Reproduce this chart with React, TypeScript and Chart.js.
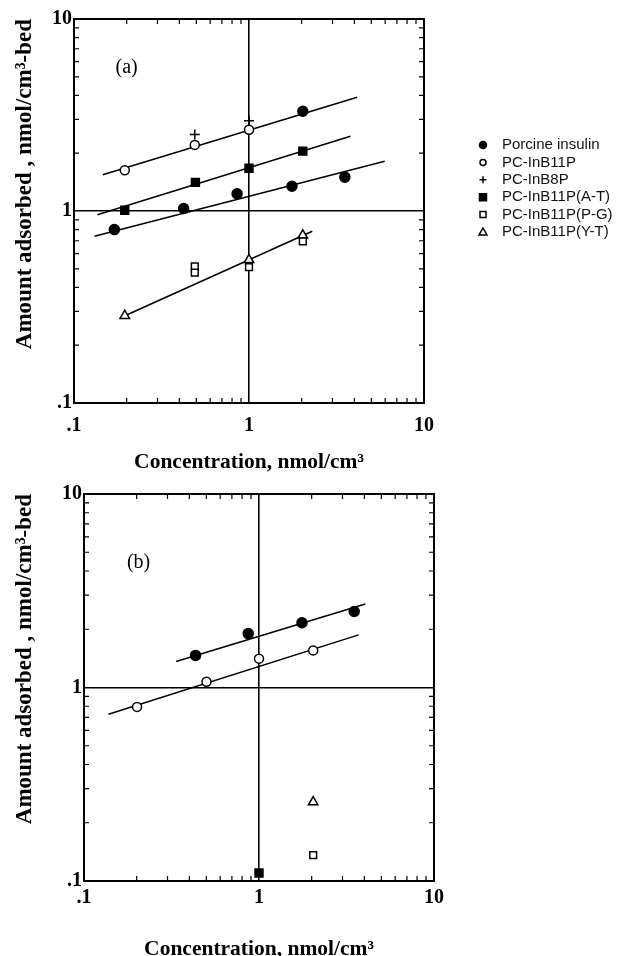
import React, { useEffect, useRef } from 'react';
import { Chart, registerables } from 'chart.js';

Chart.register(...registerables);

// ---------- labels ----------
const SERIES_LABELS = [
  'Porcine insulin',
  'PC-InB11P',
  'PC-InB8P',
  'PC-InB11P(A-T)',
  'PC-InB11P(P-G)',
  'PC-InB11P(Y-T)',
];
const X_TITLE = 'Concentration, nmol/cm³';
const Y_TITLE = 'Amount adsorbed , nmol/cm³-bed';
const TICK_VALUES = [0.1, 1, 10];
const TICK_LABELS = ['.1', '1', '10'];
const MINOR_TICKS = [0.2, 0.3, 0.4, 0.5, 0.6, 0.7, 0.8, 0.9, 2, 3, 4, 5, 6, 7, 8, 9];

// ---------- panel (a) data ----------
const A_PORCINE_X = [0.17, 0.423, 0.855, 1.76, 3.53, 2.03];
const A_PORCINE_Y = [0.8, 1.03, 1.23, 1.345, 1.5, 3.31];
const A_B11P_X = [0.195, 0.49, 1.0];
const A_B11P_Y = [1.63, 2.21, 2.65];
const A_B8P_X = [0.49, 1.0];
const A_B8P_Y = [2.5, 2.95];
const A_AT_X = [0.195, 0.494, 1.0, 2.03];
const A_AT_Y = [1.01, 1.41, 1.67, 2.05];
const A_PG_X = [0.49, 0.49, 1.0, 2.03];
const A_PG_Y = [0.515, 0.478, 0.51, 0.695];
const A_YT_X = [0.195, 1.0, 2.03];
const A_YT_Y = [0.285, 0.557, 0.747];
// fitted lines (a)
const A_FIT1_X = [0.146, 4.15];
const A_FIT1_Y = [1.545, 3.91];
const A_FIT2_X = [0.136, 3.8];
const A_FIT2_Y = [0.957, 2.45];
const A_FIT3_X = [0.131, 5.96];
const A_FIT3_Y = [0.738, 1.815];
const A_FIT4_X = [0.183, 2.3];
const A_FIT4_Y = [0.277, 0.784];
const A_PANEL_LABEL = '(a)';
const A_PANEL_LABEL_X = 0.2;
const A_PANEL_LABEL_Y = 5.6;

// ---------- panel (b) data ----------
const B_PORCINE_X = [0.434, 0.868, 1.76, 3.5];
const B_PORCINE_Y = [1.465, 1.9, 2.16, 2.47];
const B_B11P_X = [0.201, 0.501, 1.0, 2.04];
const B_B11P_Y = [0.794, 1.07, 1.41, 1.555];
const B_AT_X = [1.0];
const B_AT_Y = [0.11];
const B_PG_X = [2.04];
const B_PG_Y = [0.136];
const B_YT_X = [2.04];
const B_YT_Y = [0.256];
const B_FIT1_X = [0.336, 4.05];
const B_FIT1_Y = [1.364, 2.7];
const B_FIT2_X = [0.138, 3.71];
const B_FIT2_Y = [0.727, 1.87];
const B_PANEL_LABEL = '(b)';
const B_PANEL_LABEL_X = 0.205;
const B_PANEL_LABEL_Y = 4.4;

// ---------- styles ----------
const SERIF = '"Liberation Serif", "Times New Roman", serif';
const SANS = '"Liberation Sans", Arial, sans-serif';

const SERIES_STYLES = [
  { pointStyle: 'circle', radius: 5, fill: '#000', legendR: 3.5 },
  { pointStyle: 'circle', radius: 4.5, fill: '#fff', legendR: 3 },
  { pointStyle: 'cross', radius: 5, fill: '#000', legendR: 3.5 },
  { pointStyle: 'rect', radius: 5.6, fill: '#000', legendR: 3.5 },
  { pointStyle: 'rect', radius: 4.8, fill: '#fff', legendR: 3 },
  { pointStyle: 'triangle', radius: 5.5, fill: '#fff', legendR: 4 },
];

function pts(xs: number[], ys: number[]) {
  return xs.map((x, i) => ({ x, y: ys[i] }));
}

function pointDataset(idx: number, xs: number[], ys: number[]) {
  const s = SERIES_STYLES[idx];
  return {
    label: SERIES_LABELS[idx],
    data: pts(xs, ys),
    showLine: false,
    pointStyle: s.pointStyle,
    pointRadius: s.radius,
    pointHoverRadius: s.radius,
    backgroundColor: s.fill,
    borderColor: '#000',
    borderWidth: 1.5,
  };
}

function lineDataset(xs: number[], ys: number[]) {
  return {
    label: 'fit',
    data: pts(xs, ys),
    showLine: true,
    pointRadius: 0,
    pointHoverRadius: 0,
    borderColor: '#000',
    backgroundColor: '#000',
    borderWidth: 1.5,
    fill: false,
    tension: 0,
  };
}

function tickLabel(v: number) {
  for (let i = 0; i < TICK_VALUES.length; i++) {
    if (Math.abs(v - TICK_VALUES[i]) < TICK_VALUES[i] * 1e-6) return TICK_LABELS[i];
  }
  return '';
}

function makeScales(yWidth: number, xHeight: number, xTickPad: number, xTitlePad: number) {
  const tickFont = { family: SERIF, size: 20, weight: 'bold' as const };
  const gridColor = (c: any) =>
    c.tick && Math.abs(c.tick.value - 1) < 1e-9 ? '#000' : 'rgba(0,0,0,0)';
  return {
    x: {
      type: 'logarithmic' as const,
      min: 0.1,
      max: 10,
      border: { display: false },
      grid: { color: gridColor, lineWidth: 1.6, drawTicks: false },
      ticks: {
        autoSkip: false,
        maxRotation: 0,
        color: '#000',
        font: tickFont,
        padding: xTickPad,
        callback: (v: any) => tickLabel(Number(v)),
      },
      title: {
        display: true,
        text: X_TITLE,
        color: '#000',
        font: { family: SERIF, size: 21.5, weight: 'bold' as const },
        padding: { top: 0, bottom: xTitlePad },
      },
      afterFit: (s: any) => {
        s.height = xHeight;
      },
    },
    y: {
      type: 'logarithmic' as const,
      min: 0.1,
      max: 10,
      border: { display: false },
      grid: { color: gridColor, lineWidth: 1.6, drawTicks: false },
      ticks: {
        autoSkip: false,
        color: '#000',
        font: tickFont,
        padding: 2,
        callback: (v: any) => tickLabel(Number(v)),
      },
      title: {
        display: true,
        text: Y_TITLE,
        align: 'end' as const,
        color: '#000',
        font: { family: SERIF, size: 23, weight: 'bold' as const },
        padding: { top: 11, bottom: 0 },
      },
      afterFit: (s: any) => {
        s.width = yWidth;
      },
    },
  };
}

// frame + inward minor ticks
const framePlugin = {
  id: 'frame',
  beforeDatasetsDraw(chart: any) {
    const { ctx, chartArea: a, scales } = chart;
    ctx.save();
    ctx.strokeStyle = '#000';
    ctx.lineWidth = 1.2;
    ctx.beginPath();
    MINOR_TICKS.forEach((v) => {
      const px = scales.x.getPixelForValue(v);
      ctx.moveTo(px, a.bottom);
      ctx.lineTo(px, a.bottom - 5);
      ctx.moveTo(px, a.top);
      ctx.lineTo(px, a.top + 5);
      const py = scales.y.getPixelForValue(v);
      ctx.moveTo(a.left, py);
      ctx.lineTo(a.left + 5, py);
      ctx.moveTo(a.right, py);
      ctx.lineTo(a.right - 5, py);
    });
    ctx.stroke();
    ctx.lineWidth = 2;
    ctx.strokeRect(a.left, a.top, a.right - a.left, a.bottom - a.top);
    ctx.restore();
  },
};

// panel label plugin
const panelLabelPlugin = {
  id: 'panelLabel',
  afterDraw(chart: any, _args: any, opts: any) {
    if (!opts || !opts.text) return;
    const { ctx, scales } = chart;
    ctx.save();
    ctx.fillStyle = '#000';
    ctx.font = `20px ${SERIF}`;
    ctx.textAlign = 'center';
    ctx.textBaseline = 'middle';
    ctx.fillText(opts.text, scales.x.getPixelForValue(opts.x), scales.y.getPixelForValue(opts.y));
    ctx.restore();
  },
};

function drawMarker(ctx: CanvasRenderingContext2D, style: string, x: number, y: number, r: number, fill: string) {
  ctx.beginPath();
  if (style === 'circle') {
    ctx.arc(x, y, r, 0, Math.PI * 2);
  } else if (style === 'rect') {
    ctx.rect(x - r, y - r, 2 * r, 2 * r);
  } else if (style === 'triangle') {
    ctx.moveTo(x, y - r);
    ctx.lineTo(x + r, y + r * 0.75);
    ctx.lineTo(x - r, y + r * 0.75);
    ctx.closePath();
  } else if (style === 'cross') {
    ctx.moveTo(x - r, y);
    ctx.lineTo(x + r, y);
    ctx.moveTo(x, y - r);
    ctx.lineTo(x, y + r);
  }
  if (style !== 'cross') {
    ctx.fillStyle = fill;
    ctx.fill();
  }
  ctx.stroke();
}

// custom legend plugin (panel a)
const legendPlugin = {
  id: 'sideLegend',
  afterDraw(chart: any, _args: any, opts: any) {
    if (!opts || !opts.show) return;
    const { ctx } = chart;
    ctx.save();
    ctx.strokeStyle = '#000';
    ctx.lineWidth = 1.5;
    ctx.font = `15px ${SANS}`;
    ctx.textBaseline = 'middle';
    ctx.textAlign = 'left';
    SERIES_LABELS.forEach((lab, i) => {
      const s = SERIES_STYLES[i];
      const y = opts.y + i * opts.spacing;
      drawMarker(ctx, s.pointStyle, opts.markerX, y, s.legendR, s.fill);
      ctx.fillStyle = '#111';
      ctx.fillText(lab, opts.textX, y);
    });
    ctx.restore();
  },
};

function makeConfig(datasets: any[], scales: any, padding: any, label: any, legend: any) {
  return {
    type: 'scatter' as const,
    data: { datasets },
    options: {
      responsive: false,
      animation: false as const,
      events: [],
      layout: { padding },
      scales,
      plugins: {
        legend: { display: false },
        tooltip: { enabled: false },
        panelLabel: label,
        sideLegend: legend,
      },
    },
    plugins: [framePlugin, panelLabelPlugin, legendPlugin],
  };
}

export default function App() {
  const refA = useRef<HTMLCanvasElement>(null);
  const refB = useRef<HTMLCanvasElement>(null);

  useEffect(() => {
    const dsA = [
      pointDataset(0, A_PORCINE_X, A_PORCINE_Y),
      pointDataset(1, A_B11P_X, A_B11P_Y),
      pointDataset(2, A_B8P_X, A_B8P_Y),
      pointDataset(3, A_AT_X, A_AT_Y),
      pointDataset(4, A_PG_X, A_PG_Y),
      pointDataset(5, A_YT_X, A_YT_Y),
      lineDataset(A_FIT1_X, A_FIT1_Y),
      lineDataset(A_FIT2_X, A_FIT2_Y),
      lineDataset(A_FIT3_X, A_FIT3_Y),
      lineDataset(A_FIT4_X, A_FIT4_Y),
    ];
    const dsB = [
      pointDataset(0, B_PORCINE_X, B_PORCINE_Y),
      pointDataset(1, B_B11P_X, B_B11P_Y),
      pointDataset(3, B_AT_X, B_AT_Y),
      pointDataset(4, B_PG_X, B_PG_Y),
      pointDataset(5, B_YT_X, B_YT_Y),
      lineDataset(B_FIT1_X, B_FIT1_Y),
      lineDataset(B_FIT2_X, B_FIT2_Y),
    ];
    const chartA = new Chart(
      refA.current as HTMLCanvasElement,
      makeConfig(
        dsA,
        makeScales(74, 72, 11, 0),
        { top: 19, right: 197, bottom: 0, left: 0 },
        { text: A_PANEL_LABEL, x: A_PANEL_LABEL_X, y: A_PANEL_LABEL_Y },
        { show: true, markerX: 483, textX: 502, y: 145, spacing: 17.4 }
      ) as any
    );
    const chartB = new Chart(
      refB.current as HTMLCanvasElement,
      makeConfig(
        dsB,
        makeScales(84, 84, 5, 3),
        { top: 19, right: 187, bottom: 0, left: 0 },
        { text: B_PANEL_LABEL, x: B_PANEL_LABEL_X, y: B_PANEL_LABEL_Y },
        { show: false }
      ) as any
    );
    return () => {
      chartA.destroy();
      chartB.destroy();
    };
  }, []);

  return (
    <div
      style={{
        position: 'fixed',
        left: 0,
        top: 0,
        width: 621,
        height: 956,
        overflow: 'hidden',
        background: '#fff',
      }}
    >
      <canvas
        ref={refA}
        width={621}
        height={475}
        style={{ position: 'absolute', left: 0, top: 0, width: 621, height: 475 }}
      />
      <canvas
        ref={refB}
        width={621}
        height={490}
        style={{ position: 'absolute', left: 0, top: 475, width: 621, height: 490 }}
      />
    </div>
  );
}
